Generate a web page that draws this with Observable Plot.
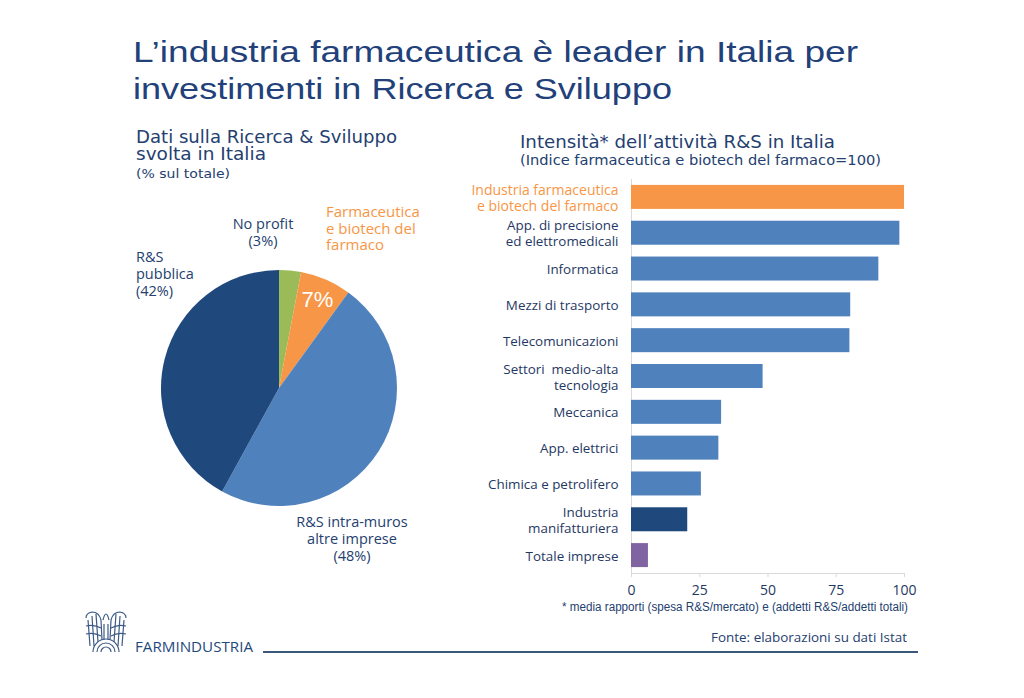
<!DOCTYPE html>
<html><head><meta charset="utf-8">
<script src="https://cdn.jsdelivr.net/npm/d3@7"></script>
<script src="https://cdn.jsdelivr.net/npm/@observablehq/plot@0.6"></script>
<style>
html,body{margin:0;padding:0;background:#fff;}
#page{position:relative;width:1024px;height:698px;overflow:hidden;font-family:"Open Sans",sans-serif;}
#page > svg.overlay{position:absolute;left:0;top:0;}
#pie{position:absolute;left:151px;top:260px;}
#bars{position:absolute;left:460px;top:170px;}
</style></head><body>
<div id="page">
<svg class="overlay" width="1024" height="698" xmlns="http://www.w3.org/2000/svg">
  <g fill="#22407A" font-family="Liberation Sans, sans-serif" font-size="30">
    <text x="133" y="62" textLength="725" lengthAdjust="spacingAndGlyphs">L’industria farmaceutica è leader in Italia per</text>
    <text x="133" y="99" textLength="539" lengthAdjust="spacingAndGlyphs">investimenti in Ricerca e Sviluppo</text>
  </g>
  <g fill="#24406F" font-family="DejaVu Sans, sans-serif">
    <text x="136" y="143" font-size="17" textLength="261" lengthAdjust="spacingAndGlyphs">Dati sulla Ricerca &amp; Sviluppo</text>
    <text x="136" y="160" font-size="17" textLength="130" lengthAdjust="spacingAndGlyphs">svolta in Italia</text>
    <text x="136" y="178" font-size="13" textLength="94" lengthAdjust="spacingAndGlyphs">(% sul totale)</text>
    <text x="520" y="148" font-size="17" textLength="315" lengthAdjust="spacingAndGlyphs">Intensità* dell’attività R&amp;S in Italia</text>
    <text x="520" y="165" font-size="14" textLength="361" lengthAdjust="spacingAndGlyphs">(Indice farmaceutica e biotech del farmaco=100)</text>
  </g>
  <g font-family="Open Sans, sans-serif" font-size="14.5" fill="#24406F">
    <text x="263" y="229" text-anchor="middle">No profit</text>
    <text x="263" y="246" text-anchor="middle">(3%)</text>
    <text x="136" y="262">R&amp;S</text>
    <text x="136" y="279">pubblica</text>
    <text x="136" y="296">(42%)</text>
    <text x="352" y="527" text-anchor="middle">R&amp;S intra-muros</text>
    <text x="352" y="544" text-anchor="middle">altre imprese</text>
    <text x="352" y="561" text-anchor="middle">(48%)</text>
    <g fill="#F79646" font-size="15">
      <text x="326" y="217">Farmaceutica</text>
      <text x="326" y="233.5">e biotech del</text>
      <text x="326" y="250">farmaco</text>
    </g>
  </g>
  <text x="562" y="611" font-family="Liberation Sans Narrow, sans-serif" font-size="12.5" fill="#24406F" textLength="346" lengthAdjust="spacingAndGlyphs">* media rapporti (spesa R&amp;S/mercato) e (addetti R&amp;S/addetti totali)</text>
  <text x="711" y="642" font-family="Open Sans, sans-serif" font-size="13" fill="#24406F" textLength="196" lengthAdjust="spacingAndGlyphs">Fonte: elaborazioni su dati Istat</text>
  <line x1="263" x2="918" y1="652" y2="652" stroke="#3B5878" stroke-width="2"/>
  <text x="135" y="652" font-family="Open Sans, sans-serif" font-size="15" fill="#1F497D" textLength="118" lengthAdjust="spacingAndGlyphs">FARMINDUSTRIA</text>
  <g fill="none" stroke="#3D5A86" stroke-width="1.2">
    <path d="M93 652 A13 13 0 0 1 119 652"/>
    <path d="M97 652 A9 9 0 0 1 115 652"/>
    <path d="M101 652 A5 5 0 0 1 111 652"/>
    <path d="M86 618 Q86 613 92 612 Q99 612 101 620 L102 640"/>
    <path d="M126 618 Q126 613 120 612 Q113 612 111 620 L110 640"/>
    <path d="M88 620 L90 646 M92 616 L94 646 M96 614 L98 642"/>
    <path d="M124 620 L122 646 M120 616 L118 646 M116 614 L114 642"/>
    <path d="M86 626 Q94 624 101 628 M86 634 Q94 632 101 636 M126 626 Q118 624 111 628 M126 634 Q118 632 111 636"/>
    <path d="M103 620 Q106 608 109 620 M104 624 L104 640 M108 624 L108 640"/>
  </g>
</svg>
<div id="pie"></div>
<div id="bars"></div>
</div>
<script>
// ---- Pie data ----
const pieLabels = ["No profit", "Farmaceutica e biotech del farmaco", "R&S intra-muros altre imprese", "R&S pubblica"];
const pieValues = [3, 7, 48, 42];
const pieColors = ["#9BBB59", "#F79646", "#4F81BD", "#1F497D"];
const pieInsideLabel = ["", "7%", "", ""];

// ---- Bar data ----
const barCategories = [
  "Industria farmaceutica\ne biotech del farmaco",
  "App. di precisione\ned elettromedicali",
  "Informatica",
  "Mezzi di trasporto",
  "Telecomunicazioni",
  "Settori  medio-alta\ntecnologia",
  "Meccanica",
  "App. elettrici",
  "Chimica e petrolifero",
  "Industria\nmanifatturiera",
  "Totale imprese"
];
const barValues = [100, 98.3, 90.6, 80.3, 80, 48.2, 33, 32, 25.6, 20.6, 6.2];
const barColors = ["#F79646", "#4F81BD", "#4F81BD", "#4F81BD", "#4F81BD", "#4F81BD", "#4F81BD", "#4F81BD", "#4F81BD", "#1F497D", "#8064A2"];
const xTicks = [0, 25, 50, 75, 100];

const pieData = pieLabels.map((label, i) => ({label, value: pieValues[i], inside: pieInsideLabel[i]}));
const barData = barCategories.map((category, i) => ({category, value: barValues[i]}));

// ---- Pie chart ----
function pieMark(index, scales, values, dims) {
  const cx = scales.x ? scales.x(0) : dims.marginLeft + (dims.width - dims.marginLeft - dims.marginRight) / 2;
  const cy = scales.y ? scales.y(0) : dims.marginTop + (dims.height - dims.marginTop - dims.marginBottom) / 2;
  const r = scales.x ? Math.abs(scales.x(1) - scales.x(0)) : (dims.width - dims.marginLeft - dims.marginRight) / 2;
  const colorOf = scales.color || ((l) => pieColors[pieLabels.indexOf(l)]);
  const arcs = d3.pie().sort(null).value(d => d.value)(pieData);
  const g = d3.create("svg:g").attr("transform", `translate(${cx},${cy})`);
  g.selectAll("path").data(arcs).join("path")
    .attr("d", d3.arc().innerRadius(0).outerRadius(r))
    .attr("fill", d => colorOf(d.data.label));
  const lab = d3.arc().innerRadius(r * 0.64).outerRadius(r);
  g.selectAll("text").data(arcs.filter(d => d.data.inside)).join("text")
    .attr("transform", d => `translate(${lab.centroid(d)})`)
    .attr("text-anchor", "middle").attr("dy", "0.35em")
    .attr("fill", "#fff").attr("font-size", 22)
    .attr("font-family", "Liberation Sans Narrow, sans-serif")
    .text(d => d.data.inside);
  return g.node();
}
const pie = Plot.plot({
  width: 256, height: 256, margin: 10,
  x: {domain: [-1, 1], axis: null},
  y: {domain: [-1, 1], axis: null},
  color: {domain: pieLabels, range: pieColors},
  marks: [pieMark]
});
document.getElementById("pie").append(pie);

// ---- Bar chart ----
const navy = "#1F3864";
const bars = Plot.plot({
  width: 464, height: 445,
  marginLeft: 171, marginRight: 20, marginTop: 9, marginBottom: 42,
  style: {fontFamily: "Open Sans, sans-serif", fontSize: "13px", color: navy, background: "transparent"},
  x: {domain: [0, 100], axis: null},
  y: {domain: barCategories, paddingInner: 0.33, paddingOuter: 0.165, round: false, axis: null},
  color: {domain: barCategories, range: barColors},
  marks: [
    Plot.ruleX([0], {stroke: "#D9D9D9"}),
    Plot.frame({anchor: "bottom", stroke: "#D9D9D9"}),
    Plot.barX(barData, {x: "value", y: "category", fill: "category"}),
    Plot.text(barData, {filter: (d, i) => i === 0, text: "category", y: "category", frameAnchor: "left", dx: -13, textAnchor: "end", fill: "#F79646", fontSize: 14, lineHeight: 1.15}),
    Plot.text(barData, {filter: (d, i) => i > 0, text: "category", y: "category", frameAnchor: "left", dx: -13, textAnchor: "end", fill: navy, fontSize: 13.4, lineHeight: 1.2}),
    Plot.axisX({ticks: xTicks, tickSize: 4, stroke: "#D9D9D9", fill: navy, fontSize: 14, tickPadding: 8, label: null})
  ]
});
document.getElementById("bars").append(bars);
</script>
</body></html>
